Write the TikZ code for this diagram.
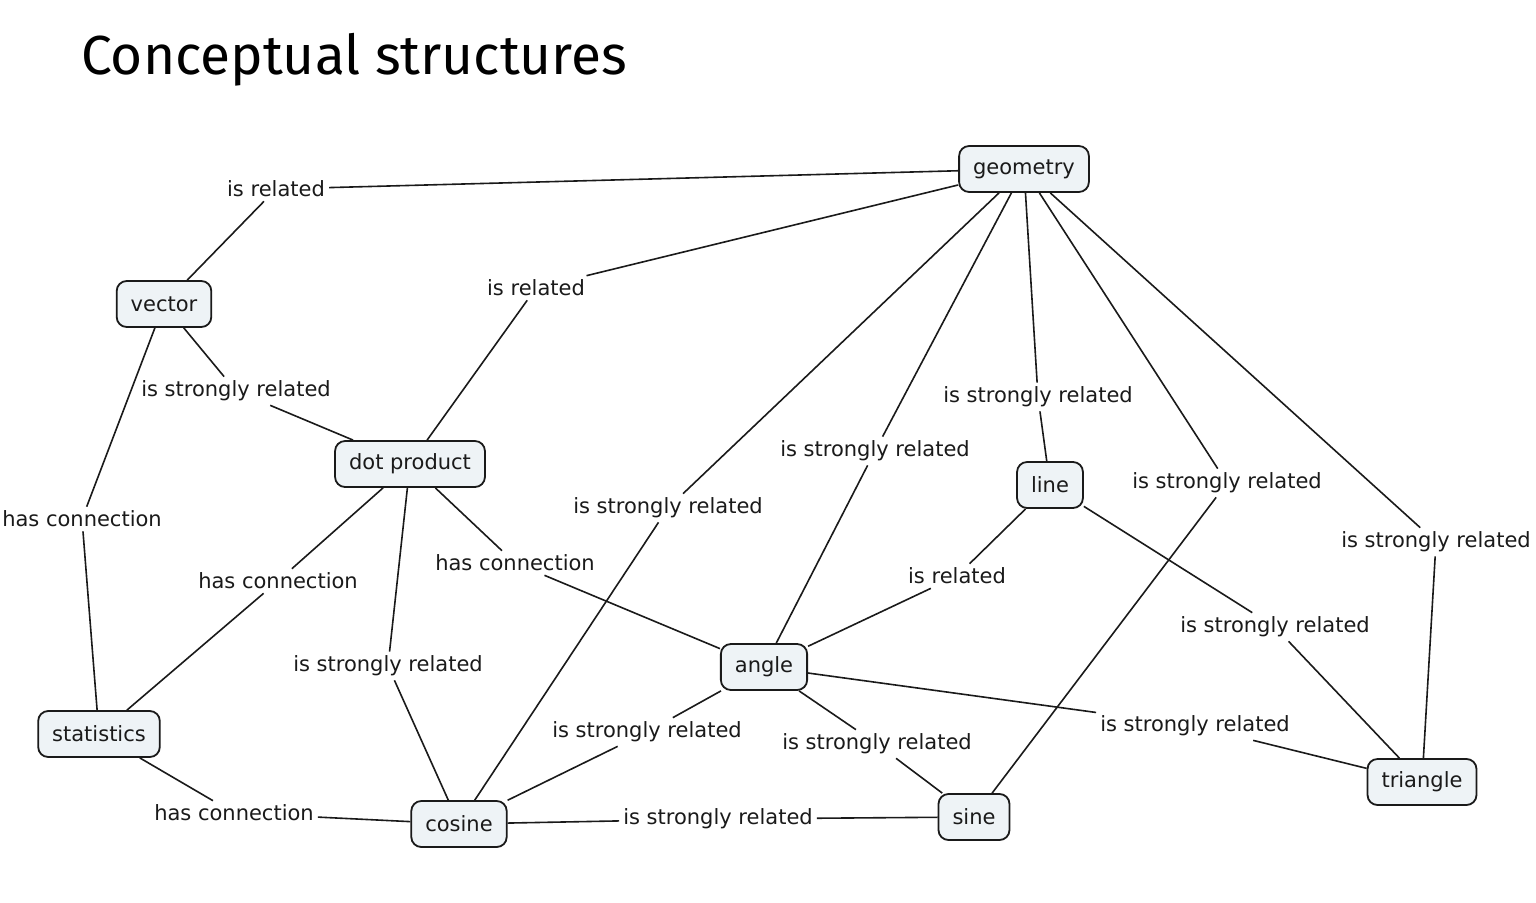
\documentclass[tikz,border=0pt]{standalone}
\usepackage{fontspec}
\setmainfont{DejaVu Sans}
\newfontfamily\titlefont{Fira Sans}
\definecolor{nodefill}{HTML}{EEF3F6}
\definecolor{ink}{HTML}{1A1A1A}
\begin{document}
\begin{tikzpicture}[x=1pt,y=-1pt,
  concept/.style={draw=ink, line width=1.8pt, rounded corners=10pt, fill=nodefill,
    inner xsep=14pt, inner ysep=0pt, minimum height=46pt, text=ink,
    font=\fontsize{21}{25}\selectfont},
  rel/.style={inner xsep=4pt, inner ysep=4pt, text=ink, font=\fontsize{21}{25}\selectfont},
  link/.style={line width=1.6pt, draw=ink}]
\useasboundingbox (0,0) rectangle (1536,902);
\fill[white] (0,0) rectangle (1536,902);
\node[anchor=base west, inner sep=0pt, font=\titlefont\fontsize{55}{62}\selectfont] (title) at (81,74) {Conceptual structures};

% concepts
\node[concept] (geometry) at (1024,169) {geometry};
\node[concept] (vector) at (164,304) {vector};
\node[concept] (dot) at (410,464) {dot product};
\node[concept] (line) at (1050,485) {line};
\node[concept] (angle) at (764,667) {angle};
\node[concept] (stat) at (99,734) {statistics};
\node[concept] (cosine) at (459,824) {cosine};
\node[concept] (sine) at (974,817) {sine};
\node[concept] (triangle) at (1422,782) {triangle};

% relation labels
\node[rel] (r1) at (276,189) {is related};
\node[rel] (r2) at (536,288) {is related};
\node[rel] (r3) at (236,391) {is strongly related};
\node[rel] (r4) at (82,519) {has connection};
\node[rel] (r5) at (278,581) {has connection};
\node[rel] (r6) at (515,563) {has connection};
\node[rel] (r7) at (388,666) {is strongly related};
\node[rel] (r8) at (668,508) {is strongly related};
\node[rel] (r9) at (875,451) {is strongly related};
\node[rel] (r10) at (1038,397) {is strongly related};
\node[rel] (r11) at (1227,483) {is strongly related};
\node[rel] (r12) at (1436,542) {is strongly related};
\node[rel] (r13) at (957,576) {is related};
\node[rel] (r14) at (1275,627) {is strongly related};
\node[rel] (r15) at (1195,726) {is strongly related};
\node[rel] (r16) at (647,732) {is strongly related};
\node[rel] (r17) at (877,744) {is strongly related};
\node[rel] (r18) at (234,813) {has connection};
\node[rel] (r19) at (718,819) {is strongly related};

% connectors
\draw[link] (geometry) -- (r1); \draw[link] (r1) -- (vector);
\draw[link] (geometry) -- (r2); \draw[link] (r2) -- (dot);
\draw[link] (vector) -- (r3); \draw[link] (r3) -- (dot);
\draw[link] (vector) -- (r4); \draw[link] (r4) -- (stat);
\draw[link] (dot) -- (r5); \draw[link] (r5) -- (stat);
\draw[link] (dot) -- (r6); \draw[link] (r6) -- (angle);
\draw[link] (dot) -- (r7); \draw[link] (r7) -- (cosine);
\draw[link] (geometry) -- (r8); \draw[link] (r8) -- (cosine);
\draw[link] (geometry) -- (r9); \draw[link] (r9) -- (angle);
\draw[link] (geometry) -- (r10); \draw[link] (r10) -- (line);
\draw[link] (geometry) -- (r11); \draw[link] (r11) -- (sine);
\draw[link] (geometry) -- (r12); \draw[link] (r12) -- (triangle);
\draw[link] (line) -- (r13); \draw[link] (r13) -- (angle);
\draw[link] (line) -- (r14); \draw[link] (r14) -- (triangle);
\draw[link] (angle) -- (r15); \draw[link] (r15) -- (triangle);
\draw[link] (angle) -- (r16); \draw[link] (r16) -- (cosine);
\draw[link] (angle) -- (r17); \draw[link] (r17) -- (sine);
\draw[link] (stat) -- (r18); \draw[link] (r18) -- (cosine);
\draw[link] (cosine) -- (r19); \draw[link] (r19) -- (sine);
\end{tikzpicture}
\end{document}
